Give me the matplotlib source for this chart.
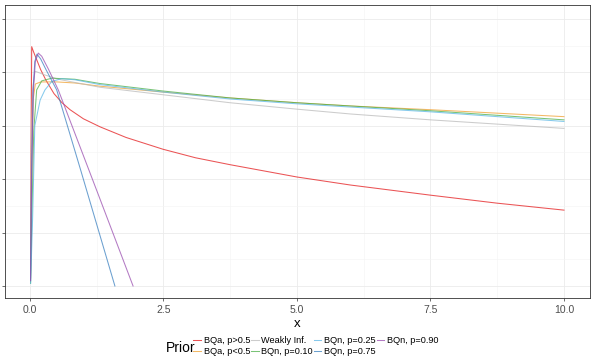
import matplotlib.pyplot as plt

# values (y axis has no printed labels)
prior_names = ["BQa, p>0.5", "BQa, p<0.5", "Weakly Inf.", "BQn, p=0.10",
               "BQn, p=0.25", "BQn, p=0.75", "BQn, p=0.90"]
prior_colors = ["#E41A1C", "#F0A030", "#BBBBBB", "#4DAF4A",
                "#5DB8E6", "#3A80C0", "#9A4EB0"]

x_red = [0.01, 0.02, 0.032, 0.06, 0.12, 0.2, 0.3, 0.45, 0.6, 0.75, 1.0, 1.31, 1.8, 2.49, 3.1, 3.75, 5.0, 6.0, 7.5, 8.75, 10.0]
y_red = [0.15, 2.5, 4.48, 4.40, 4.25, 4.05, 3.85, 3.60, 3.43, 3.30, 3.13, 2.98, 2.78, 2.56, 2.40, 2.27, 2.04, 1.89, 1.70, 1.55, 1.42]

x_orange = [0.01, 0.03, 0.06, 0.1, 0.2, 0.5, 0.84, 1.31, 2.49, 3.75, 5.0, 6.0, 7.5, 10.0]
y_orange = [0.1, 2.0, 3.5, 3.78, 3.82, 3.82, 3.80, 3.74, 3.63, 3.52, 3.43, 3.37, 3.30, 3.17]

x_grey = [0.01, 0.025, 0.05, 0.094, 0.15, 0.28, 0.53, 0.84, 1.31, 2.49, 3.75, 5.0, 6.0, 7.5, 10.0]
y_grey = [0.1, 2.5, 3.7, 4.02, 4.0, 3.95, 3.87, 3.81, 3.72, 3.58, 3.43, 3.31, 3.22, 3.11, 2.95]

x_green = [0.01, 0.04, 0.07, 0.125, 0.22, 0.41, 0.84, 1.31, 2.49, 3.75, 5.0, 6.0, 7.5, 10.0]
y_green = [0.05, 1.5, 2.9, 3.67, 3.84, 3.89, 3.87, 3.79, 3.65, 3.52, 3.43, 3.37, 3.28, 3.11]

x_lblue = [0.012, 0.05, 0.09, 0.19, 0.28, 0.41, 0.59, 0.84, 1.31, 2.49, 3.75, 5.0, 6.0, 7.5, 10.0]
y_lblue = [0.05, 1.3, 3.0, 3.48, 3.67, 3.83, 3.88, 3.86, 3.77, 3.63, 3.50, 3.41, 3.35, 3.26, 3.08]

x_dblue = [0.01, 0.03, 0.06, 0.09, 0.13, 0.2, 0.3, 0.5, 0.94, 1.59]
y_dblue = [0.1, 2.2, 3.7, 4.2, 4.34, 4.25, 4.05, 3.67, 2.20, 0.0]

x_purple = [0.01, 0.03, 0.06, 0.1, 0.155, 0.22, 0.35, 0.53, 1.31, 1.93]
y_purple = [0.1, 2.0, 3.6, 4.2, 4.36, 4.30, 4.05, 3.67, 1.63, 0.0]

xs = [x_red, x_orange, x_grey, x_green, x_lblue, x_dblue, x_purple]
ys = [y_red, y_orange, y_grey, y_green, y_lblue, y_dblue, y_purple]

x_ticks = [0, 2.5, 5, 7.5, 10]
x_tick_labels = ["0.0", "2.5", "5.0", "7.5", "10.0"]

plt.rcParams["font.family"] = ["Liberation Sans", "DejaVu Sans"]

fig = plt.figure(figsize=(5.93, 3.58), dpi=100)
ax = fig.add_axes([5 / 593, 1 - 298 / 358, 585 / 593, 293 / 358])

lines = []
for xv, yv, c, n in zip(xs, ys, prior_colors, prior_names):
    l, = ax.plot(xv, yv, color=c, lw=0.75, alpha=0.75, label=n)
    lines.append(l)

ax.set_xlim(-0.468, 10.487)
ax.set_ylim(-0.225, 5.26)
ax.set_xticks(x_ticks)
ax.set_xticklabels(x_tick_labels)
ax.set_xticks([1.25, 3.75, 6.25, 8.75], minor=True)
ax.set_yticks([0, 1, 2, 3, 4, 5])
ax.set_yticklabels([])
ax.set_yticks([0.5, 1.5, 2.5, 3.5, 4.5], minor=True)
ax.grid(True, which="major", color="#EBEBEB", lw=0.6)
ax.grid(True, which="minor", color="#F4F4F4", lw=0.4)
ax.set_axisbelow(True)
for s in ax.spines.values():
    s.set_color("#333333")
    s.set_linewidth(0.6)
ax.tick_params(which="major", length=2.5, width=0.5, color="#333333", labelsize=7.5, labelcolor="#4D4D4D", pad=2.5)
ax.tick_params(which="minor", length=0)
ax.set_xlabel("x", fontsize=9.5, labelpad=2)

fig.text(166 / 593, 1 - 348 / 358, "Prior", fontsize=10, va="center", ha="left")
fig.legend(handles=lines, ncol=4, loc="center left", bbox_to_anchor=(193 / 593, 1 - 346 / 358),
           frameon=False, fontsize=6.6, handlelength=0.85, handletextpad=0.3,
           columnspacing=0.08, labelspacing=0.25, borderpad=0, borderaxespad=0)

fig.savefig("out.png", dpi=100)
